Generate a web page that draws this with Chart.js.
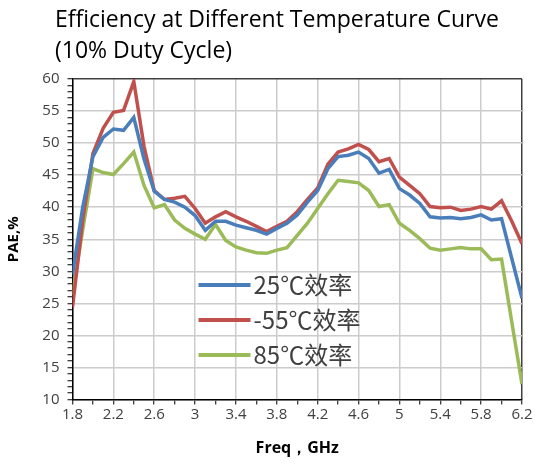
<!DOCTYPE html>
<html>
<head>
<meta charset="utf-8">
<script src="https://cdn.jsdelivr.net/npm/chart.js@4.4.0/dist/chart.umd.min.js"></script>
<style>
html, body { margin: 0; padding: 0; background: #fff; }
#wrap { position: relative; width: 536px; height: 464px; }
#myChart { position: absolute; left: 0; top: 0; }
#title { position: absolute; left: 55px; top: 3px; font-family: "Open Sans"; font-size: 23px; line-height: 31px; color: #000; }
</style>
</head>
<body>
<div id="wrap">
  <canvas id="myChart" width="536" height="464"></canvas>
  <div id="title">Efficiency at Different Temperature Curve<br>(10% Duty Cycle)</div>
</div>
<script>
const freqs = [1.8, 1.9, 2.0, 2.1, 2.2, 2.3, 2.4, 2.5, 2.6, 2.7, 2.8, 2.9, 3.0, 3.1, 3.2, 3.3, 3.4, 3.5, 3.6, 3.7, 3.8, 3.9, 4.0,
               4.1, 4.2, 4.3, 4.4, 4.5, 4.6, 4.7, 4.8, 4.9, 5.0, 5.1, 5.2, 5.3, 5.4, 5.5, 5.6, 5.7, 5.8, 5.9, 6.0, 6.1, 6.2];
const pae25 = [29.5, 40.0, 47.9, 50.9, 52.2, 52.0, 54.0, 47.5, 42.5, 41.2, 40.8, 40.0, 38.7, 36.4, 37.8, 37.8, 37.2, 36.8, 36.4, 35.8, 36.7, 37.5, 38.8,
               40.8, 42.6, 46.0, 47.9, 48.1, 48.6, 47.6, 45.3, 45.9, 42.9, 41.9, 40.6, 38.5, 38.3, 38.4, 38.2, 38.4, 38.8, 38.0, 38.2, 32.0, 25.8];
const paeMinus55 = [24.4, 38.0, 48.4, 52.3, 54.8, 55.1, 59.6, 49.5, 42.6, 41.2, 41.4, 41.7, 39.8, 37.5, 38.5, 39.3, 38.5, 37.8, 37.0, 36.2, 37.0, 37.8, 39.3,
                    41.2, 43.0, 46.7, 48.6, 49.1, 49.8, 49.0, 47.1, 47.6, 44.7, 43.4, 42.1, 40.1, 39.9, 40.0, 39.5, 39.7, 40.1, 39.7, 41.0, 37.8, 34.3];
const pae85 = [26.3, 36.5, 46.0, 45.4, 45.1, 46.8, 48.6, 43.4, 39.9, 40.4, 38.0, 36.7, 35.8, 35.0, 37.3, 34.8, 33.8, 33.3, 32.9, 32.8, 33.3, 33.7, 35.6,
               37.5, 39.8, 42.1, 44.2, 44.0, 43.8, 42.6, 40.1, 40.4, 37.5, 36.4, 35.1, 33.6, 33.3, 33.5, 33.7, 33.5, 33.5, 31.8, 31.9, 22.1, 12.4];
const seriesNames = ['25℃效率', '-55℃效率', '85℃效率'];
const seriesColors = ['#4a7ebb', '#c0504d', '#9bbb59'];

const toPoints = vals => vals.map((v, i) => ({ x: freqs[i], y: v }));

Chart.defaults.font.family = 'Open Sans';

// legend drawn inside the plot, under the curves' dip
const legendInside = {
    id: 'legendInside',
    afterDatasetsDraw(chart) {
        const c = chart.ctx;
        const a = chart.chartArea;
        chart.data.datasets.forEach((ds, i) => {
            const y = a.top + 206 + i * 35;
            const x0 = a.left + 126;
            c.save();
            c.strokeStyle = ds.borderColor;
            c.lineWidth = 4;
            c.beginPath();
            c.moveTo(x0, y);
            c.lineTo(x0 + 52, y);
            c.stroke();
            c.fillStyle = '#404040';
            c.font = '24px "Noto Sans CJK SC"';
            c.textBaseline = 'middle';
            c.fillText(ds.label, x0 + 55, y);
            c.restore();
        });
    }
};

const stepIndex = v => Math.round((v - 1.8) / 0.2);

const ctx = document.getElementById('myChart').getContext('2d');
const myChart = new Chart(ctx, {
    type: 'line',
    data: {
        datasets: [pae25, paeMinus55, pae85].map((vals, i) => ({
            label: seriesNames[i],
            data: toPoints(vals),
            borderColor: seriesColors[i],
            backgroundColor: seriesColors[i],
            borderWidth: 3.5,
            pointRadius: 0,
            tension: 0
        }))
    },
    options: {
        responsive: false,
        animation: false,
        layout: { padding: { left: 0, right: 14, top: 79, bottom: 0 } },
        plugins: {
            legend: { display: false },
            tooltip: { enabled: false }
        },
        scales: {
            x: {
                type: 'linear',
                min: 1.8,
                max: 6.2,
                afterFit: s => { s.height = 64.5; },
                ticks: {
                    stepSize: 0.2,
                    autoSkip: false,
                    maxRotation: 0,
                    padding: 1,
                    color: '#404040',
                    font: { size: 15 },
                    callback: v => stepIndex(v) % 2 === 0 ? String(Math.round(v * 10) / 10) : ''
                },
                grid: {
                    color: c => {
                        const k = stepIndex(c.tick.value);
                        if (k === 22) return '#404040';
                        return k % 2 === 0 ? '#cccccc' : 'rgba(0,0,0,0)';
                    },
                    lineWidth: 1.5,
                    tickColor: '#000',
                    tickWidth: 1,
                    tickLength: 5
                },
                border: { color: '#000', width: 1.5 },
                title: {
                    display: true,
                    text: 'Freq，GHz',
                    color: '#000',
                    font: { size: 16, weight: 'bold' },
                    padding: { top: 4, bottom: 6 }
                }
            },
            y: {
                min: 10,
                max: 60,
                afterFit: s => { s.width = 72.5; },
                ticks: {
                    stepSize: 1,
                    autoSkip: false,
                    padding: 8,
                    color: '#404040',
                    font: { size: 15 },
                    callback: v => v % 5 === 0 ? v : ''
                },
                grid: {
                    color: c => {
                        if (c.tick.value === 60) return '#404040';
                        return c.tick.value % 5 === 0 ? '#cccccc' : 'rgba(0,0,0,0)';
                    },
                    lineWidth: 1.5,
                    tickColor: '#000',
                    tickWidth: 1,
                    tickLength: 5
                },
                border: { color: '#000', width: 1.5 },
                title: {
                    display: true,
                    text: 'PAE,%',
                    color: '#000',
                    font: { size: 15, weight: 'bold' },
                    padding: { top: 5, bottom: 0 }
                }
            }
        }
    },
    plugins: [legendInside]
});
</script>
</body>
</html>
